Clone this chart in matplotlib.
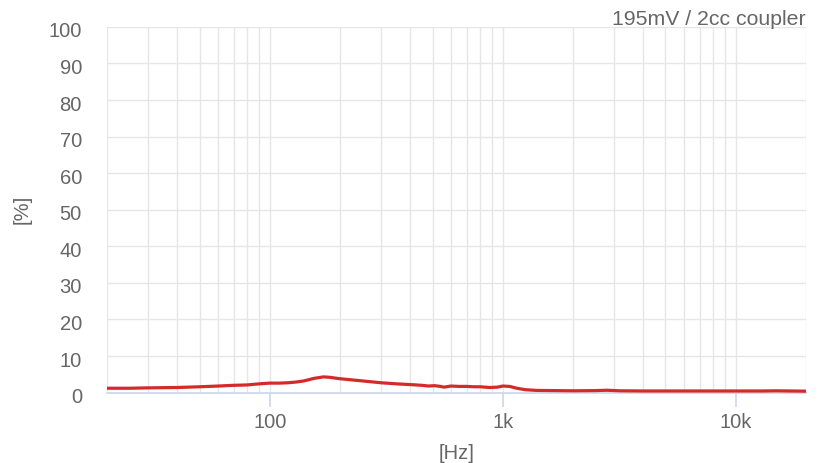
import matplotlib
matplotlib.use("Agg")
import matplotlib.pyplot as plt
from matplotlib.ticker import FixedLocator, NullFormatter, FixedFormatter
import matplotlib.transforms as mtransforms

freq_hz = [20, 25, 30, 40, 50, 60, 70, 80, 90, 100, 110, 120, 130, 140, 155, 170, 180,
           200, 250, 300, 350, 400, 450, 480, 510, 540, 560, 600, 650, 700, 750, 800,
           880, 950, 1000, 1070, 1150, 1250, 1400, 1700, 2000, 2500, 2800, 3200,
           4000, 5000, 7000, 10000, 13000, 15000, 17000, 20000]
thd_pct = [1.2, 1.2, 1.3, 1.4, 1.6, 1.8, 2.0, 2.1, 2.4, 2.6, 2.6, 2.7, 2.9, 3.2, 3.9, 4.3, 4.2,
           3.8, 3.2, 2.7, 2.4, 2.2, 2.0, 1.8, 1.9, 1.7, 1.5, 1.8, 1.7, 1.7, 1.6, 1.6,
           1.4, 1.5, 1.8, 1.7, 1.2, 0.8, 0.6, 0.55, 0.5, 0.55, 0.65, 0.5,
           0.45, 0.45, 0.45, 0.45, 0.45, 0.5, 0.45, 0.4]

y_ticks = list(range(0, 101, 10))
x_major = [100, 1000, 10000]
x_major_labels = ["100", "1k", "10k"]
title_text = "195mV / 2cc coupler"

plt.rcParams['font.family'] = ['Liberation Sans', 'DejaVu Sans']
fig = plt.figure(figsize=(8.23, 4.63), dpi=100)
ax = fig.add_axes([0.130, 0.152, 0.849, 0.790])

grid_c = "#e6e6e6"
axis_c = "#ccd6eb"
text_c = "#666666"
fs = 14.5

ax.plot(freq_hz, thd_pct, color="#d42a2a", lw=2.3, zorder=3, solid_capstyle="round")
ax.set_xscale("log")
ax.set_xlim(20, 20000)
ax.set_ylim(0, 100)

minor = [m * d for d in (10, 100, 1000, 10000) for m in range(2, 10) if 20 <= m * d <= 20000]
ax.xaxis.set_major_locator(FixedLocator(x_major))
ax.xaxis.set_major_formatter(FixedFormatter(x_major_labels))
ax.xaxis.set_minor_locator(FixedLocator(minor))
ax.xaxis.set_minor_formatter(NullFormatter())
ax.set_yticks(y_ticks)

ax.grid(True, which="both", axis="x", color=grid_c, lw=1)
ax.grid(True, which="major", axis="y", color=grid_c, lw=1)
ax.set_axisbelow(True)

for s in ("top", "left", "right"):
    ax.spines[s].set_visible(False)
ax.spines["bottom"].set_color(axis_c)
ax.spines["bottom"].set_linewidth(1.2)

ax.tick_params(axis="x", which="major", length=10, width=1.2, color=axis_c,
               labelcolor=text_c, labelsize=fs, pad=5)
ax.tick_params(axis="x", which="minor", length=0)
ax.tick_params(axis="y", length=0, labelcolor=text_c, labelsize=fs, pad=18)
off = mtransforms.ScaledTranslation(0, -3 / 100, fig.dpi_scale_trans)
for lbl in ax.get_yticklabels():
    lbl.set_horizontalalignment("right")
    lbl.set_transform(lbl.get_transform() + off)

ax.set_xlabel("[Hz]", color=text_c, fontsize=fs, labelpad=8)
ax.set_ylabel("[%]", color=text_c, fontsize=fs, labelpad=12)

fig.text(0.979, 0.957, title_text, ha="right", va="center", color=text_c, fontsize=15.3)

fig.savefig("out.png", dpi=100, facecolor="white")
